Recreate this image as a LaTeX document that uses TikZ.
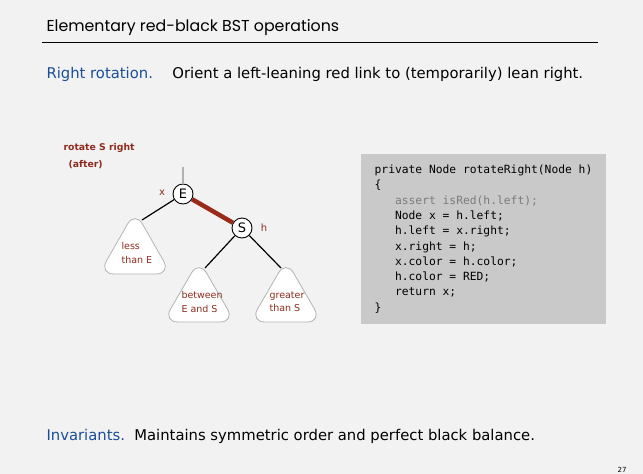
\documentclass[tikz,border=0pt]{standalone}
\usepackage{fontspec}
\setmainfont{DejaVu Sans}
\setmonofont{DejaVu Sans Mono}
\newfontfamily\titlefont{Poppins}
\definecolor{slidebg}{HTML}{F2F2F2}
\definecolor{headblue}{HTML}{1A4E9A}
\definecolor{rbred}{HTML}{8E2B1E}
\definecolor{linkred}{HTML}{9A2A1A}
\definecolor{codegray}{HTML}{C9C9C9}
\definecolor{assertgray}{HTML}{7A7A7A}

\begin{document}
\begin{tikzpicture}[x=1pt, y=-1pt,
    key/.style={circle, draw, fill=white, line width=0.9pt, minimum size=20pt, inner sep=0pt, font=\fontsize{13}{13}\selectfont},
    link/.style={line width=1.2pt},
    redlink/.style={line width=4.5pt, linkred},
    tag/.style={rbred, font=\fontsize{10}{12}\selectfont},
    subtree/.style={rbred, align=left, font=\fontsize{9.5}{13.5}\selectfont},
    tri/.style={draw=black!30, fill=white, line width=0.8pt, rounded corners=15pt},
    codebox/.style={fill=codegray, minimum width=245pt, minimum height=170pt, align=left, inner sep=0pt, font=\ttfamily\fontsize{11.3}{15.3}\selectfont}
]
    \useasboundingbox[fill=slidebg] (0,0) rectangle (643,474);

    % Heading
    \node[anchor=base west, font=\titlefont\fontsize{15.8}{16}\selectfont] (title) at (43,31) {Elementary red-black BST operations};
    \draw[line width=0.8pt] (42,42) -- (598,42);
    \node[anchor=base west, font=\fontsize{14.8}{15}\selectfont] (intro) at (43,78) {\textcolor{headblue}{Right rotation.}\quad\ Orient a left-leaning red link to (temporarily) lean right.};

    % Caption
    \node[tag, anchor=base west, font=\bfseries\fontsize{9.3}{12}\selectfont] (cap1) at (60,150) {rotate S right};
    \node[tag, anchor=base west, font=\bfseries\fontsize{9.3}{12}\selectfont] (cap2) at (65,167) {(after)};

    % Subtree outlines
    \draw[tri] (135,211) -- (171,274) -- (99,274) -- cycle;
    \draw[tri] (199,260) -- (235,322) -- (163,322) -- cycle;
    \draw[tri] (286,260) -- (322,322) -- (250,322) -- cycle;
    \coordinate (ltop) at (142,220);
    \coordinate (mtop) at (205,268);
    \coordinate (rtop) at (281,268);

    % Subtrees
    \node[subtree, anchor=north west] (lt) at (118,239) {less\\than E};
    \node[subtree, anchor=north west] (mt) at (178,288) {between\\E and S};
    \node[subtree, anchor=north west] (rt) at (266,288) {greater\\than S};

    % Keys
    \coordinate (Etop) at (183,167);
    \node[key] (E) at (183,194) {E};
    \node[key] (S) at (242,228) {S};
    \node[tag] (x) at (162,193) {x};
    \node[tag] (h) at (264,228) {h};

    % Links
    \draw[line width=2pt, black!30] (Etop) -- (E);
    \draw[redlink] (E) -- (S);
    \draw[link] (E) -- (ltop);
    \draw[link] (S) -- (mtop);
    \draw[link] (S) -- (rtop);

    % Code
    \node[codebox] (code) at (483.5,239) {%
private Node rotateRight(Node h)\\
\{\\
\hphantom{xxx}\textcolor{assertgray}{assert isRed(h.left);}\\
\hphantom{xxx}Node x = h.left;\\
\hphantom{xxx}h.left = x.right;\\
\hphantom{xxx}x.right = h;\\
\hphantom{xxx}x.color = h.color;\\
\hphantom{xxx}h.color = RED;\\
\hphantom{xxx}return x;\\
\}};

    % Footer
    \node[anchor=base west, font=\fontsize{14.8}{15}\selectfont] (inv) at (43,440) {\textcolor{headblue}{Invariants.}\ \ Maintains symmetric order and perfect black balance.};
    \node[anchor=base east, font=\fontsize{7}{7}\selectfont] (page) at (630,472) {27};
\end{tikzpicture}
\end{document}
